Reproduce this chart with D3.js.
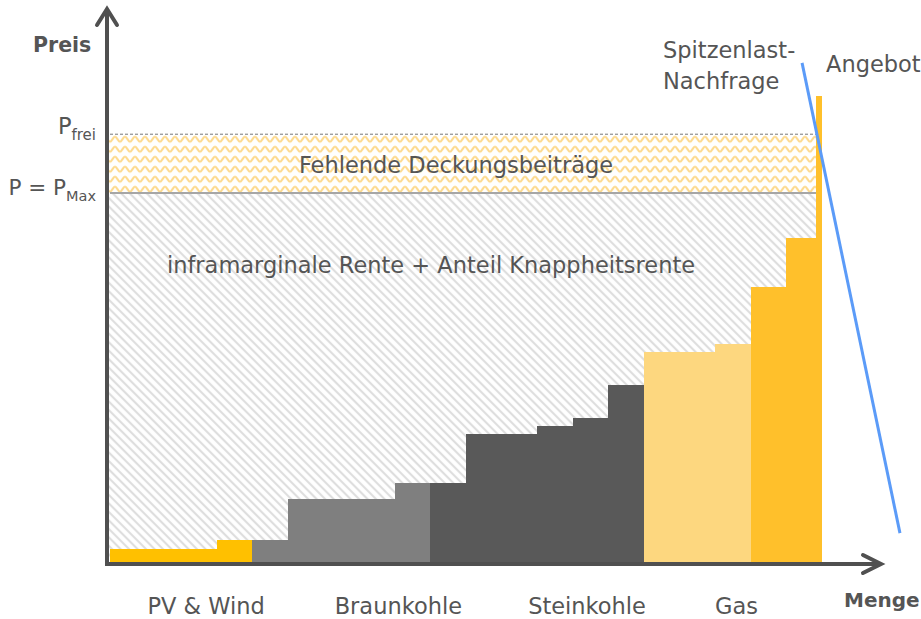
<!DOCTYPE html>
<html>
<head>
<meta charset="UTF-8">
<title>Merit Order</title>
<script src="https://d3js.org/d3.v7.min.js"></script>
<style>
  body { margin: 0; background: #fff; }
  text { font-family: "DejaVu Sans", sans-serif; fill: #555; }
  .bold { font-weight: bold; fill: #555; }
</style>
</head>
<body>
<div id="chart"></div>
<script>
// Kraftwerksblöcke (Breite = Kapazität, Höhe = Grenzkosten)
const groups = ["PV & Wind", "Braunkohle", "Steinkohle", "Gas", "Gas"];
const groupColors = ["#FFC000", "#7F7F7F", "#595959", "#FDD77F", "#FFC02B"];
const capacities = [[3, 1], [1, 3, 1], [1, 2, 1, 1, 1], [2, 1], [1, 0.84, 0.13]];
const prices = [[2.8, 4.7], [4.7, 13.5, 17], [17, 27.5, 29.2, 30.9, 38], [45, 46.8], [59, 69.5, 100]];

const categoryLabels = ["PV & Wind", "Braunkohle", "Steinkohle", "Gas"];
const categoryPos = [2.7, 8.1, 13.4, 17.6];

const pMax = 79.2;
const pFrei = 91.8;
const demand = [[19.44, 107.1], [22.19, 6.2]];

const width = 921, height = 619;
const fs = 22.5;
const x = d3.scaleLinear().domain([0, 22.5]).range([110, 110 + 22.5 * 35.6]);
const y = d3.scaleLinear().domain([0, 100]).range([562, 96]);

const svg = d3.select("#chart").append("svg")
    .attr("width", width)
    .attr("height", height);

const defs = svg.append("defs");

// schraffur grau
const hatch = defs.append("pattern")
    .attr("id", "hatch")
    .attr("patternUnits", "userSpaceOnUse")
    .attr("width", 6).attr("height", 6)
    .attr("patternTransform", "rotate(-45)");
hatch.append("line")
    .attr("x1", 3).attr("y1", 0).attr("x2", 3).attr("y2", 6)
    .attr("stroke", "#dedede").attr("stroke-width", 2.2);

// wellen gelb
const wave = defs.append("pattern")
    .attr("id", "wave")
    .attr("patternUnits", "userSpaceOnUse")
    .attr("width", 10).attr("height", 10)
    .attr("y", y(pFrei) + 1);
wave.append("path")
    .attr("d", "M0,6.5 C2,6.5 3,1.5 5,1.5 C7,1.5 8,6.5 10,6.5")
    .attr("fill", "none")
    .attr("stroke", "#FDD98C").attr("stroke-width", 2.2);

// flache bis zum letzten block
let cum = 0;
const blocks = [];
capacities.forEach((caps, gi) => {
    caps.forEach((c, i) => {
        blocks.push({ x0: cum, x1: cum + c, p: prices[gi][i], color: groupColors[gi] });
        cum += c;
    });
});
const areaEnd = blocks[blocks.length - 1].x0;

svg.append("rect")
    .attr("x", x(0) - 1).attr("y", y(pMax))
    .attr("width", x(areaEnd) - x(0) + 1).attr("height", y(0) - y(pMax))
    .attr("fill", "url(#hatch)");

svg.append("rect")
    .attr("x", x(0) - 1).attr("y", y(pFrei))
    .attr("width", x(areaEnd) - x(0) + 1).attr("height", y(pMax) - y(pFrei))
    .attr("fill", "url(#wave)");

svg.append("line")
    .attr("x1", x(0)).attr("x2", x(areaEnd))
    .attr("y1", y(pFrei)).attr("y2", y(pFrei))
    .attr("stroke", "#777").attr("stroke-width", 1)
    .attr("stroke-dasharray", "3,2");

svg.append("line")
    .attr("x1", x(0)).attr("x2", x(areaEnd))
    .attr("y1", y(pMax)).attr("y2", y(pMax))
    .attr("stroke", "#a6a6a6").attr("stroke-width", 2);

svg.selectAll(".block")
    .data(blocks)
    .join("rect")
    .attr("class", "block")
    .attr("shape-rendering", "crispEdges")
    .attr("x", d => x(d.x0))
    .attr("width", d => x(d.x1) - x(d.x0) + 0.6)
    .attr("y", d => y(d.p))
    .attr("height", d => y(0) - y(d.p))
    .attr("fill", d => d.color);

// nachfrage
svg.append("line")
    .attr("x1", x(demand[0][0])).attr("y1", y(demand[0][1]))
    .attr("x2", x(demand[1][0])).attr("y2", y(demand[1][1]))
    .attr("stroke", "#5B9BF8").attr("stroke-width", 3);

// achsen
const axisColor = "#505050";
svg.append("line")
    .attr("x1", 107).attr("y1", 566).attr("x2", 107).attr("y2", 10)
    .attr("stroke", axisColor).attr("stroke-width", 4);
svg.append("path")
    .attr("d", "M97,25 L107,9 L117,25")
    .attr("fill", "none").attr("stroke", axisColor).attr("stroke-width", 4)
    .attr("stroke-linecap", "round");
svg.append("line")
    .attr("x1", 105).attr("y1", 564).attr("x2", 880).attr("y2", 564)
    .attr("stroke", axisColor).attr("stroke-width", 4);
svg.append("path")
    .attr("d", "M863,555 L881,564 L863,573")
    .attr("fill", "none").attr("stroke", axisColor).attr("stroke-width", 4)
    .attr("stroke-linecap", "round");

svg.append("text").attr("class", "bold")
    .attr("x", 33).attr("y", 52)
    .attr("font-size", 20.5).text("Preis");
svg.append("text").attr("class", "bold")
    .attr("x", 844).attr("y", 607)
    .attr("font-size", 20).text("Menge");

// P labels
const pf = svg.append("text").attr("x", 96).attr("y", 134)
    .attr("text-anchor", "end").attr("font-size", fs);
pf.append("tspan").text("P");
pf.append("tspan").attr("font-size", 15).attr("dy", 6).text("frei");

const pm = svg.append("text").attr("x", 96).attr("y", 195)
    .attr("text-anchor", "end").attr("font-size", 21.5);
pm.append("tspan").text("P = P");
pm.append("tspan").attr("font-size", 14.5).attr("dy", 6).text("Max");

svg.append("text").attr("x", 456).attr("y", 173)
    .attr("text-anchor", "middle").attr("font-size", fs)
    .text("Fehlende Deckungsbeiträge");
svg.append("text").attr("x", 431).attr("y", 273)
    .attr("text-anchor", "middle").attr("font-size", fs)
    .text("inframarginale Rente + Anteil Knappheitsrente");

svg.append("text").attr("x", 663).attr("y", 58).attr("font-size", fs).text("Spitzenlast-");
svg.append("text").attr("x", 663).attr("y", 89).attr("font-size", fs).text("Nachfrage");
svg.append("text").attr("x", 826).attr("y", 72).attr("font-size", fs).text("Angebot");

svg.selectAll(".cat")
    .data(categoryLabels)
    .join("text")
    .attr("class", "cat")
    .attr("x", (d, i) => x(categoryPos[i]))
    .attr("y", 614)
    .attr("text-anchor", "middle")
    .attr("font-size", fs)
    .text(d => d);
</script>
</body>
</html>
